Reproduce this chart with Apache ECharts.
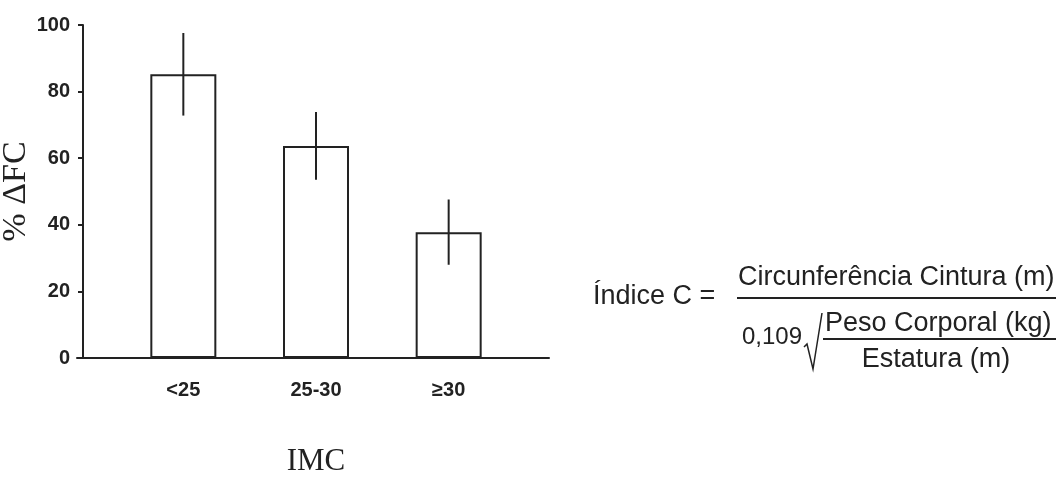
<!DOCTYPE html>
<html><head><meta charset="utf-8">
<script src="https://cdn.jsdelivr.net/npm/echarts@6/dist/echarts.min.js"></script>
<style>html,body{margin:0;padding:0;background:#fff}#c{width:1059px;height:482px}</style>
</head><body><div id="c"></div>
<script>
const categories = ['<25', '25-30', '≥30'];
const means = [85.2, 63.7, 37.8];
const errors = [12.4, 10.2, 9.8];
const yTicks = [0, 20, 40, 60, 80, 100];

const chart = echarts.init(document.getElementById('c'));
const ink = '#222';
const errData = categories.map((c, i) => [i, means[i] - errors[i], means[i] + errors[i]]);
const fFont = '27px "Liberation Sans", Arial, sans-serif';

chart.setOption({
  backgroundColor: '#fff',
  animation: false,
  grid: [
    {left: 117, right: 544, top: 25, bottom: 124, containLabel: false, outerBoundsMode: 'none'},
    {left: 77, right: 510, top: 25, bottom: 124, containLabel: false, outerBoundsMode: 'none'}
  ],
  xAxis: [
    {type: 'category', gridIndex: 0, data: categories,
     axisLine: {show: false}, axisTick: {show: false},
     axisLabel: {margin: 22, color: ink, fontFamily: '"Liberation Sans Narrow", "Arial Narrow", "Liberation Sans", sans-serif', fontWeight: 'bold', fontSize: 20},
     name: 'IMC', nameLocation: 'middle', nameGap: 88,
     nameTextStyle: {fontFamily: '"Liberation Serif", "Times New Roman", serif', fontSize: 31, color: ink}},
    {type: 'value', gridIndex: 1, min: 0, max: 1,
     axisLine: {show: true, lineStyle: {color: ink, width: 2}},
     axisTick: {show: false}, axisLabel: {show: false}, splitLine: {show: false}}
  ],
  yAxis: [
    {type: 'value', gridIndex: 0, min: yTicks[0], max: yTicks[yTicks.length - 1], interval: 20, offset: 34,
     axisLine: {show: true, lineStyle: {color: ink, width: 2}},
     axisTick: {show: true, length: 5, lineStyle: {color: ink, width: 2}},
     axisLabel: {margin: 13, color: ink, fontFamily: '"Liberation Sans Narrow", "Arial Narrow", "Liberation Sans", sans-serif', fontWeight: 'bold', fontSize: 20},
     splitLine: {show: false},
     name: '% ΔFC', nameLocation: 'middle', nameGap: 46, nameRotate: 90,
     nameTextStyle: {fontFamily: '"Liberation Serif", "Times New Roman", serif', fontSize: 34, color: ink}},
    {type: 'value', gridIndex: 1, show: false, min: 0, max: 1}
  ],
  series: [
    {type: 'bar', xAxisIndex: 0, yAxisIndex: 0, data: means, barWidth: 66,
     itemStyle: {color: '#fff', borderColor: ink, borderWidth: 2}},
    {type: 'custom', xAxisIndex: 0, yAxisIndex: 0, data: errData, z: 5,
     renderItem: function (params, api) {
       const lo = api.coord([api.value(0), api.value(1)]);
       const hi = api.coord([api.value(0), api.value(2)]);
       return {type: 'line', shape: {x1: lo[0], y1: lo[1], x2: hi[0], y2: hi[1]},
               style: {stroke: ink, lineWidth: 2}};
     }}
  ],
  graphic: [
    {type: 'text', x: 593, y: 297, style: {text: 'Índice C =', font: fFont, fill: ink, verticalAlign: 'middle'}},
    {type: 'text', x: 738, y: 278, style: {text: 'Circunferência Cintura (m)', font: fFont, fill: ink, verticalAlign: 'middle'}},
    {type: 'line', shape: {x1: 737, y1: 298, x2: 1056, y2: 298}, style: {stroke: ink, lineWidth: 2}},
    {type: 'text', x: 742, y: 337, style: {text: '0,109', font: '24px "Liberation Sans", Arial, sans-serif', fill: ink, verticalAlign: 'middle'}},
    {type: 'polyline', shape: {points: [[804, 347], [807, 344], [813, 369], [822, 313]]}, style: {stroke: ink, lineWidth: 1.5, fill: null}},
    {type: 'text', x: 825, y: 324, style: {text: 'Peso Corporal (kg)', font: fFont, fill: ink, verticalAlign: 'middle'}},
    {type: 'line', shape: {x1: 823, y1: 339, x2: 1056, y2: 339}, style: {stroke: ink, lineWidth: 2}},
    {type: 'text', x: 936, y: 360, style: {text: 'Estatura (m)', font: fFont, fill: ink, verticalAlign: 'middle', align: 'center'}}
  ]
});
</script></body></html>
